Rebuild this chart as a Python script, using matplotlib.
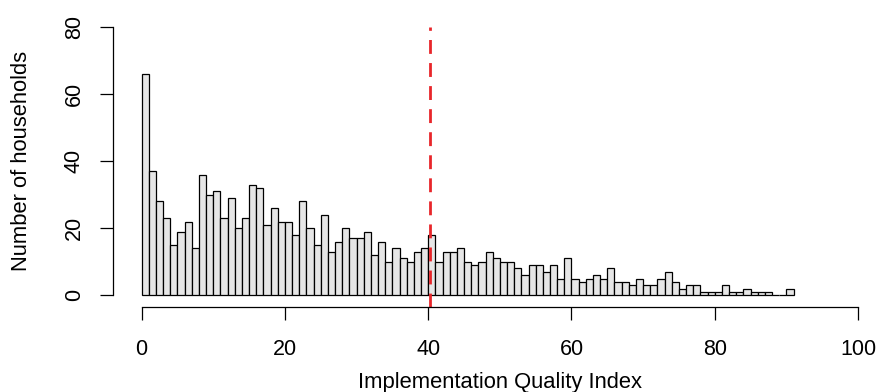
import numpy as np
import matplotlib
matplotlib.use("Agg")
import matplotlib.pyplot as plt

# histogram counts, one per unit-wide bin starting at 0
bin_left = list(range(0, 91))
counts = [66, 37, 28, 23, 15, 19, 22, 14, 36, 30,
          31, 23, 29, 20, 23, 33, 32, 21, 26, 22,
          22, 18, 28, 20, 15, 24, 13, 16, 20, 17,
          17, 19, 12, 16, 10, 14, 11, 10, 13, 14,
          18, 10, 13, 13, 14, 10, 9, 10, 13, 11,
          10, 10, 8, 6, 9, 9, 7, 9, 5, 11,
          5, 4, 5, 6, 5, 8, 4, 4, 3, 5,
          3, 3, 5, 7, 4, 2, 3, 3, 1, 1,
          1, 3, 1, 1, 2, 1, 1, 1, 0, 0,
          2]
cutoff = 40.2
xticks = [0, 20, 40, 60, 80, 100]
yticks = [0, 20, 40, 60, 80]

plt.rcParams['font.family'] = ['Liberation Sans', 'DejaVu Sans']
FS_TICK = 15.5
FS_LAB = 15.8

W, H = 878, 392
fig = plt.figure(figsize=(W / 100, H / 100), dpi=100)

# place the axes in pixels so the data lands where it does in the reference
x0, x1 = -4, 104
y0, y1 = -3.5, 80.2
px_left, px_right = 113, 886.7
px_bottom, px_top = 307, 26.6
ax = fig.add_axes([px_left / W, (H - px_bottom) / H,
                   (px_right - px_left) / W, (px_bottom - px_top) / H])

ax.bar(bin_left, counts, width=1, align='edge', color='#E6E6E6',
       edgecolor='black', linewidth=0.9)
ax.axvline(cutoff, color='#E8262A', linestyle=(0, (5, 3.3)), linewidth=2)

ax.set_xlim(x0, x1)
ax.set_ylim(y0, y1)
for s in ['top', 'right']:
    ax.spines[s].set_visible(False)
ax.spines['bottom'].set_bounds(0, 100)
ax.spines['left'].set_bounds(0, 80)
for s in ['bottom', 'left']:
    ax.spines[s].set_linewidth(0.9)

ax.set_xticks(xticks)
ax.set_yticks(yticks)
ax.set_yticklabels([str(v) for v in yticks], rotation=90, va='center')
ax.tick_params(axis='both', length=9.7, width=0.9, labelsize=FS_TICK)
ax.tick_params(axis='x', pad=13)
ax.tick_params(axis='y', pad=10.5)

fig.text(500 / W, 1 - 388 / H, 'Implementation Quality Index',
         ha='center', va='baseline', fontsize=FS_LAB)
fig.text(27 / W, 1 - 161 / H, 'Number of households', rotation=90,
         rotation_mode='anchor', ha='center', va='baseline', fontsize=FS_LAB)

fig.savefig('out.png', dpi=100)
